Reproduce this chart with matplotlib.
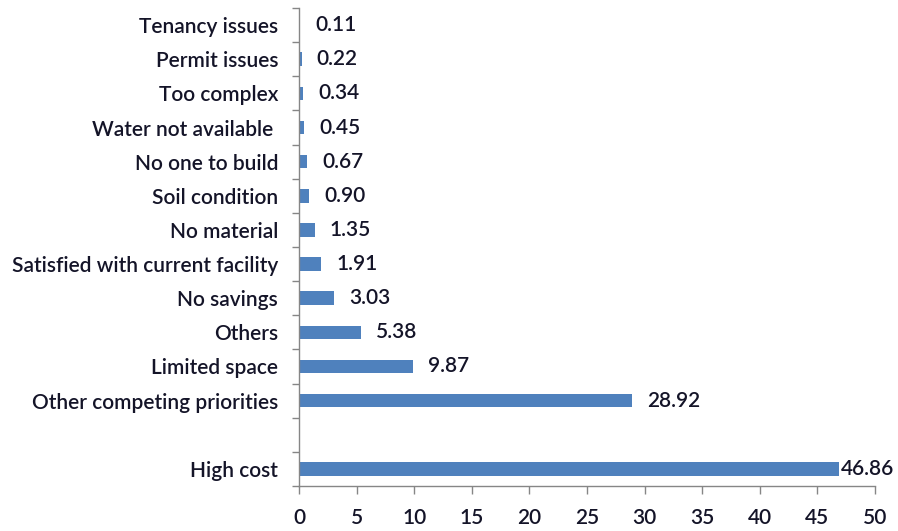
import matplotlib
matplotlib.use("Agg")
import matplotlib.pyplot as plt
import numpy as np

categories = ["Tenancy issues", "Permit issues", "Too complex", "Water not available ",
              "No one to build", "Soil condition", "No material",
              "Satisfied with current facility", "No savings", "Others",
              "Limited space", "Other competing priorities", "", "High cost"]
values = [0.11, 0.22, 0.34, 0.45, 0.67, 0.90, 1.35, 1.91, 3.03, 5.38, 9.87, 28.92, None, 46.86]
value_labels = ["0.11", "0.22", "0.34", "0.45", "0.67", "0.90", "1.35", "1.91", "3.03",
                "5.38", "9.87", "28.92", "", "46.86"]
xticks = [0, 5, 10, 15, 20, 25, 30, 35, 40, 45, 50]

plt.rcParams['font.family'] = ['Lato', 'DejaVu Sans']
text_color = "#141428"
fs = 15
fw = "semibold"

fig = plt.figure(figsize=(8.98, 5.31), dpi=100)
ax = fig.add_axes([299/898, 1-486/531, (875-299)/898, (486-8)/531])

n = len(categories)
ypos = np.arange(n)
for y, v, lab in zip(ypos, values, value_labels):
    if v is None:
        continue
    ax.barh(y, v, height=0.4, color="#4F81BD", zorder=2)
    off = 11 if v < 45 else 1.5
    ax.annotate(lab, (v, y), xytext=(off, 0), textcoords="offset points",
                va="center", ha="left", fontsize=fs, fontweight=fw, color=text_color)

ax.set_ylim(n - 0.5, -0.5)
ax.set_xlim(0, 50)
ax.set_yticks(ypos)
ax.set_yticklabels(categories, fontsize=fs, fontweight=fw, color=text_color)
ax.tick_params(axis='y', which='major', length=0, pad=15)
ax.set_yticks(np.arange(-0.5, n, 1), minor=True)
ax.tick_params(axis='y', which='minor', length=5, color="#868686", width=1)
ax.set_xticks(xticks)
ax.set_xticklabels([str(t) for t in xticks], fontsize=fs, fontweight=fw, color=text_color)
ax.tick_params(axis='x', length=6, color="#868686", width=1, pad=10)

for s in ["top", "right"]:
    ax.spines[s].set_visible(False)
for s in ["left", "bottom"]:
    ax.spines[s].set_color("#868686")
    ax.spines[s].set_linewidth(1)

fig.savefig("out.png", dpi=100)
